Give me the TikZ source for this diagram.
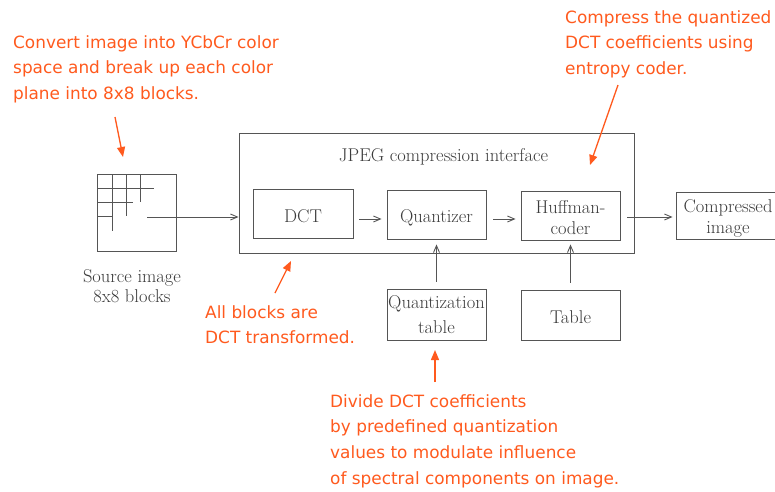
\documentclass[tikz,border=0pt]{standalone}
\usepackage{fontspec}
\newfontfamily\notefont{DejaVu Sans}
\usetikzlibrary{arrows.meta}
\definecolor{ink}{HTML}{555555}
\definecolor{inktext}{HTML}{3C3C3C}
\definecolor{note}{HTML}{FF5A1E}
\tikzset{
  labelfont/.style={text=inktext, font=\fontsize{18.5}{21}\selectfont},
  blockbox/.style={draw=ink, line width=0.9pt, rectangle, minimum width=99pt, minimum height=49pt,
    inner sep=0pt, labelfont, align=center},
  oneline/.style={text height=16pt, text depth=0pt},
  flow/.style={draw=ink, line width=0.9pt, -{Straight Barb[length=7pt,width=6pt]}},
  notetext/.style={text=note, font=\notefont\fontsize{16.9}{25.8}\selectfont, align=left, anchor=north west, inner sep=0pt},
  notearrow/.style={draw=note, line width=1.3pt, -{Triangle[length=10pt,width=8pt]}},
}
\begin{document}
\begin{tikzpicture}[x=1pt, y=-1pt]
\useasboundingbox[fill=white] (0,0) rectangle (775,491);

% source image with its 8x8 block staircase
\node[draw=ink, line width=0.9pt, minimum width=79pt, minimum height=77pt, inner sep=0pt] (src) at (136.5,212.5) {};
\draw[ink, line width=0.9pt]
  (97,188) -- (154,188)
  (97,202) -- (133,202)
  (97,216) -- (112,216)
  (112,174) -- (112,231)
  (126,174) -- (126,216)
  (140,174) -- (140,202);
\coordinate (srcout) at (147,217);
\node[labelfont, align=center, inner sep=0pt] (srclabel) at (132,286) {Source image\\[-1pt]8x8 blocks};

% JPEG compression interface
\node[draw=ink, line width=0.9pt, minimum width=395pt, minimum height=120pt, inner sep=0pt] (jpeg) at (436.5,193) {};
\node[labelfont] (jpegtitle) at (443.5,157) {JPEG compression interface};

\node[blockbox, oneline, minimum width=100pt] (dct) at (303,214) {DCT};
\node[blockbox, oneline] (quant) at (436.5,214.5) {Quantizer};
\node[blockbox] (huff) at (570.5,215.5) {};
\node[labelfont, align=center, inner sep=0pt] (hufflabel) at ([yshift=-2pt]huff.center) {Huffman-\\coder};
\node[blockbox, minimum height=51pt] (qtable) at (436.5,314.5) {Quantization\\[4pt]table};
\node[blockbox, oneline, minimum height=50pt] (table) at (570.5,315) {Table};
\node[blockbox, minimum width=100pt, minimum height=47pt] (out) at (726,215.5) {};
\node[labelfont, align=center, inner sep=0pt] (outlabel) at ([xshift=2pt,yshift=-3pt]out.center) {Compressed\\image};

% data flow
\draw[flow] (srcout) -- (jpeg.west |- srcout);
\draw[flow, shorten <=6pt, shorten >=5pt] (dct.east |- 0,219) -- (quant.west |- 0,219);
\draw[flow, shorten <=7pt, shorten >=5pt] (quant.east |- 0,219) -- (huff.west |- 0,219);
\draw[flow, shorten <=7pt, shorten >=3pt] (huff.east |- 0,217) -- (out.west |- 0,217);
\draw[flow, shorten <=7pt] (qtable.north) -- ([yshift=9pt]qtable.north |- jpeg.south);
\draw[flow, shorten <=7pt] (table.north) -- ([yshift=9pt]table.north |- jpeg.south);

% annotations
\node[notetext] (n1) at (13,35) {Convert image into YCbCr color\\space and break up each color\\plane into 8x8 blocks.};
\coordinate (n1a) at (115,117);
\coordinate (n1b) at (123,157);
\draw[notearrow] (n1a) -- (n1b);

\node[notetext] (n2) at (565,10) {Compress the quantized\\DCT coefficients using\\entropy coder.};
\coordinate (n2a) at (618,85);
\coordinate (n2b) at (590,165);
\draw[notearrow] (n2a) -- (n2b);

\node[notetext] (n3) at (205,305) {All blocks are\\DCT transformed.};
\coordinate (n3a) at (275,293);
\coordinate (n3b) at (291,261);
\draw[notearrow] (n3a) -- (n3b);

\node[notetext] (n4) at (330,394) {Divide DCT coefficients\\by predefined quantization\\values to modulate influence\\of spectral components on image.};
\coordinate (n4a) at (435,382);
\coordinate (n4b) at (435,350);
\draw[notearrow] (n4a) -- (n4b);
\end{tikzpicture}
\end{document}
